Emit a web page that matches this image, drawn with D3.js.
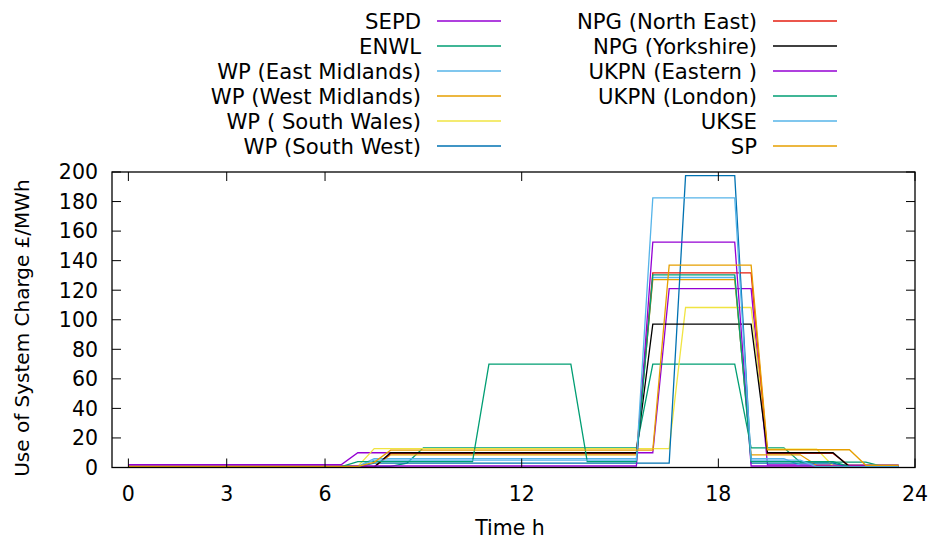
<!DOCTYPE html>
<html>
<head>
<meta charset="utf-8">
<script src="https://cdn.jsdelivr.net/npm/d3@7"></script>
<style>
  body { margin: 0; background: #fff; }
  text { font-family: "DejaVu Sans", sans-serif; }
</style>
</head>
<body>
<div id="chart"></div>
<script>
// half-hourly settlement periods, hours
var times = [0, 0.5, 1, 1.5, 2, 2.5, 3, 3.5, 4, 4.5, 5, 5.5, 6, 6.5, 7, 7.5,
  8, 8.5, 9, 9.5, 10, 10.5, 11, 11.5, 12, 12.5, 13, 13.5, 14, 14.5, 15, 15.5,
  16, 16.5, 17, 17.5, 18, 18.5, 19, 19.5, 20, 20.5, 21, 21.5, 22, 22.5, 23, 23.5];

var names = ["SEPD", "ENWL", "WP (East Midlands)", "WP (West Midlands)", "WP ( South Wales)",
  "WP (South West)", "NPG (North East)", "NPG (Yorkshire)", "UKPN (Eastern )",
  "UKPN (London)", "UKSE", "SP"];

var colors = ["#9400d3", "#009e73", "#56b4e9", "#e69f00", "#f0e442", "#0072b2",
  "#e51e10", "#000000", "#9400d3", "#009e73", "#56b4e9", "#e69f00"];

// £/MWh per half hour
var sepd = [2,2,2,2,2,2,2,2,2,2,2,2,2,2, 10,10,10,10,10,10,10,10,10,10,10,10,10,10,10,10,10,10,10,
  121,121,121,121,121,121, 1.8,1.8,1.8,1.8,1.8,1.8,1.8,1.8,1.8];
var enwl = [0.8,0.8,0.8,0.8,0.8,0.8,0.8,0.8,0.8,0.8,0.8,0.8,0.8,0.8,0.8,0.8,0.8, 3,
  13.3,13.3,13.3,13.3,13.3,13.3,13.3,13.3,13.3,13.3,13.3,13.3,13.3,13.3,
  70,70,70,70,70,70, 13.3,13.3,13.3, 3.6,3.6,3.6,3.6,3.6, 0.8,0.8];
var wpEastMid = [0.8,0.8,0.8,0.8,0.8,0.8,0.8,0.8,0.8,0.8,0.8,0.8,0.8,0.8,0.8,
  6,6,6,6,6,6,6,6,6,6,6,6,6,6,6,6,6,
  128.6,128.6,128.6,128.6,128.6,128.6, 6,6,6, 1.5,1.5,1.5,1.5,1.5,1.5,1.5];
var wpWestMid = [0.6,0.6,0.6,0.6,0.6,0.6,0.6,0.6,0.6,0.6,0.6,0.6,0.6,0.6,0.6,0.6,
  8.6,8.6,8.6,8.6,8.6,8.6,8.6,8.6,8.6,8.6,8.6,8.6,8.6,8.6,8.6,8.6,
  127.2,127.2,127.2,127.2,127.2,127.2, 8.6,8.6,8.6,8.6, 1.5,1.5,1.5,1.5,1.5,1.5];
var wpSouthWales = [0.8,0.8,0.8,0.8,0.8,0.8,0.8,0.8,0.8,0.8,0.8,0.8,0.8,0.8,0.8,
  12.8,12.8,12.8,12.8,12.8,12.8,12.8,12.8,12.8,12.8,12.8,12.8,12.8,12.8,12.8,12.8,12.8,12.8,12.8,
  108.3,108.3,108.3,108.3,108.3, 12.5,12.5,12.5,12.5, 1,1,1,1,1];
var wpSouthWest = [0.4,0.4,0.4,0.4,0.4,0.4,0.4,0.4,0.4,0.4,0.4,0.4,0.4,0.4,0.4,
  3,3,3,3,3,3,3,3,3,3,3,3,3,3,3,3,3,3,3,
  197.5,197.5,197.5,197.5, 3,3,3,3,3,3, 0.4,0.4,0.4,0.4];
var npgNorthEast = [0.3,0.3,0.3,0.3,0.3,0.3,0.3,0.3,0.3,0.3,0.3,0.3,0.3,0.3,0.3,0.3,
  9.5,9.5,9.5,9.5,9.5,9.5,9.5,9.5,9.5,9.5,9.5,9.5,9.5,9.5,9.5,9.5,
  131.7,131.7,131.7,131.7,131.7,131.7,131.7, 9.5,9.5,9.5,9.5,9.5, 1,1,1,1];
var npgYorkshire = [0.2,0.2,0.2,0.2,0.2,0.2,0.2,0.2,0.2,0.2,0.2,0.2,0.2,0.2,0.2,0.2,
  10,10,10,10,10,10,10,10,10,10,10,10,10,10,10,10,
  97,97,97,97,97,97,97, 10,10,10,10,10, 0.5,0.5,0.5,0.5];
var ukpnEastern = [1,1,1,1,1,1,1,1,1,1,1,1,1,1,1,1,1,1,1,1,1,1,1,1,1,1,1,1,1,1,1,1,
  152.5,152.5,152.5,152.5,152.5,152.5, 1,1,1,1,1,1,1,1,1,1];
var ukpnLondon = [0.6,0.6,0.6,0.6,0.6,0.6,0.6,0.6,0.6,0.6,0.6,0.6,0.6,0.6,
  4,4,4,4,4,4,4,4, 70,70,70,70,70,70, 4,4,4,4,
  130.4,130.4,130.4,130.4,130.4,130.4, 4,4,4,4,4,4, 0.6,0.6,0.6,0.6];
var ukse = [0.5,0.5,0.5,0.5,0.5,0.5,0.5,0.5,0.5,0.5,0.5,0.5,0.5,0.5,0.5,
  5,5,5,5,5,5,5,5,5,5,5,5,5,5,5,5,5,
  182.5,182.5,182.5,182.5,182.5,182.5, 5,5,5,5, 0.5,0.5,0.5,0.5,0.5,0.5];
var sp = [0.8,0.8,0.8,0.8,0.8,0.8,0.8,0.8,0.8,0.8,0.8,0.8,0.8,0.8,0.8, 3.5,
  11.7,11.7,11.7,11.7,11.7,11.7,11.7,11.7,11.7,11.7,11.7,11.7,11.7,11.7,11.7,11.7,11.7,
  137,137,137,137,137,137, 12,12,12,12,12,12, 1.5,1.5,1.5];

var allSeries = [sepd, enwl, wpEastMid, wpWestMid, wpSouthWales, wpSouthWest,
  npgNorthEast, npgYorkshire, ukpnEastern, ukpnLondon, ukse, sp];

var xTicks = [0, 3, 6, 12, 18, 24];
var yTicks = [0, 20, 40, 60, 80, 100, 120, 140, 160, 180, 200];

var width = 931, height = 540;
var plotL = 112, plotR = 915, plotT = 172, plotB = 467.5;
var fs = "20.5px";

var svg = d3.select("#chart").append("svg")
  .attr("width", width)
  .attr("height", height);

var x = d3.scaleLinear().domain([-0.5, 24]).range([plotL, plotR]);
var y = d3.scaleLinear().domain([0, 200]).range([plotB, plotT]);

// series
var line = d3.line()
  .x(function(d, i) { return x(times[i]); })
  .y(function(d) { return y(d); });

allSeries.forEach(function(s, k) {
  svg.append("path")
    .datum(s)
    .attr("fill", "none")
    .attr("stroke", colors[k])
    .attr("stroke-width", 1.3)
    .attr("d", line);
});

// ticks (gnuplot style: inward, mirrored)
var tickLen = 9;
var g = svg.append("g").attr("stroke", "#000").attr("stroke-width", 1);
yTicks.forEach(function(t) {
  g.append("line").attr("x1", plotL).attr("x2", plotL + tickLen).attr("y1", y(t)).attr("y2", y(t));
  g.append("line").attr("x1", plotR).attr("x2", plotR - tickLen).attr("y1", y(t)).attr("y2", y(t));
});
xTicks.forEach(function(t) {
  g.append("line").attr("x1", x(t)).attr("x2", x(t)).attr("y1", plotB).attr("y2", plotB - tickLen);
  g.append("line").attr("x1", x(t)).attr("x2", x(t)).attr("y1", plotT).attr("y2", plotT + tickLen);
});

svg.append("rect")
  .attr("x", plotL).attr("y", plotT)
  .attr("width", plotR - plotL).attr("height", plotB - plotT)
  .attr("fill", "none").attr("stroke", "#000").attr("stroke-width", 1.3);

// tick labels
svg.selectAll(".ylab").data(yTicks).enter().append("text")
  .attr("x", 98).attr("y", function(d) { return y(d); })
  .attr("dy", "0.36em")
  .attr("text-anchor", "end")
  .attr("font-size", fs)
  .text(function(d) { return d; });

svg.selectAll(".xlab").data(xTicks).enter().append("text")
  .attr("x", function(d) { return x(d); }).attr("y", 501)
  .attr("text-anchor", "middle")
  .attr("font-size", fs)
  .text(function(d) { return d; });

// axis titles
svg.append("text")
  .attr("x", 510).attr("y", 535)
  .attr("text-anchor", "middle")
  .attr("font-size", fs)
  .text("Time h");

svg.append("text")
  .attr("transform", "translate(29,328) rotate(-90)")
  .attr("text-anchor", "middle")
  .attr("font-size", "20px")
  .text("Use of System Charge £/MWh");

// key, two columns of six
var key = svg.append("g");
names.forEach(function(n, k) {
  var col = Math.floor(k / 6), row = k % 6;
  var tx = col == 0 ? 421 : 757;
  var lx = col == 0 ? 437 : 773;
  var ky = 21 + row * 25;
  key.append("text")
    .attr("x", tx).attr("y", ky)
    .attr("dy", "0.36em")
    .attr("text-anchor", "end")
    .attr("font-size", "21.2px")
    .text(n);
  key.append("line")
    .attr("x1", lx).attr("x2", lx + 64)
    .attr("y1", ky).attr("y2", ky)
    .attr("stroke", colors[k])
    .attr("stroke-width", 1.3);
});
</script>
</body>
</html>
